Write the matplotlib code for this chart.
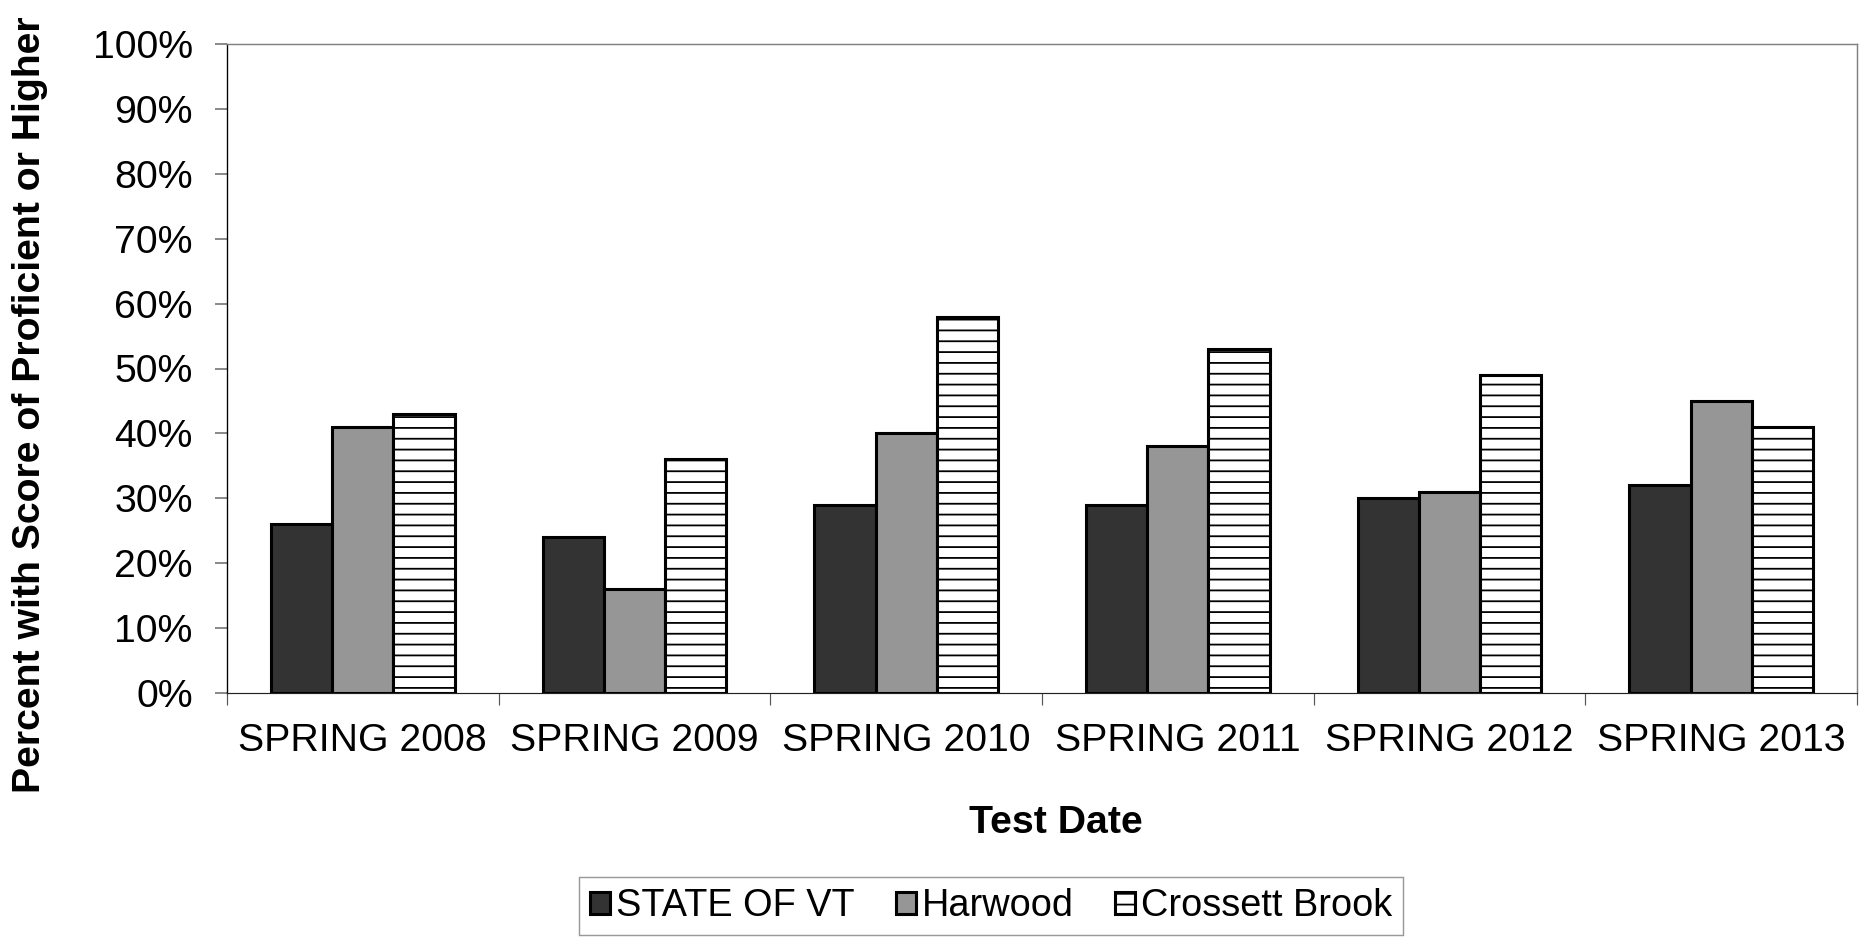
import numpy as np
import matplotlib
matplotlib.use("Agg")
import matplotlib.pyplot as plt
from matplotlib.ticker import PercentFormatter

plt.rcParams['font.family'] = ['Liberation Sans', 'DejaVu Sans']
plt.rcParams['hatch.linewidth'] = 2.0

# data
dates = ['SPRING 2008', 'SPRING 2009', 'SPRING 2010', 'SPRING 2011', 'SPRING 2012', 'SPRING 2013']
state_vt = [0.26, 0.24, 0.29, 0.29, 0.30, 0.32]
harwood = [0.41, 0.16, 0.40, 0.38, 0.31, 0.45]
crossett = [0.43, 0.36, 0.58, 0.53, 0.49, 0.41]

W, H, DPI = 1868, 939, 65
fig = plt.figure(figsize=(W / DPI, H / DPI), dpi=DPI)
ax = fig.add_axes([227 / W, 1 - 693 / H, (1857 - 227) / W, (693 - 44) / H])

fs = 43.5
x = np.arange(len(dates))
bw = 0.225
lw = 3.4
ax.bar(x - bw, state_vt, bw, color='#333333', edgecolor='black', linewidth=lw,
       label='STATE OF VT', zorder=3)
ax.bar(x, harwood, bw, color='#969696', edgecolor='black', linewidth=lw,
       label='Harwood', zorder=3)
ax.bar(x + bw, crossett, bw, color='white', edgecolor='black', linewidth=lw,
       hatch='-', label='Crossett Brook', zorder=3)

ax.set_xlim(-0.5, len(dates) - 0.5)
ax.set_ylim(0, 1)
ax.set_yticks(np.arange(0, 1.01, 0.1))
ax.yaxis.set_major_formatter(PercentFormatter(1.0, decimals=0))

# category boundaries get the tick marks, labels sit in the middle
ax.set_xticks(np.arange(-0.5, len(dates), 1.0))
ax.set_xticklabels([])
ax.set_xticks(x, minor=True)
ax.set_xticklabels(dates, minor=True)
ax.tick_params(axis='x', which='minor', length=0, pad=33, labelsize=fs)
ax.tick_params(axis='x', which='major', length=13, width=1.3, color='#555555', direction='out')
ax.tick_params(axis='y', length=13, width=2, color='#808080', pad=25, labelsize=fs)

for s in ['top', 'right']:
    ax.spines[s].set_color('#808080')
    ax.spines[s].set_linewidth(1.6)
ax.spines['left'].set_color('black')
ax.spines['left'].set_linewidth(1.5)
ax.spines['bottom'].set_color('#222222')
ax.spines['bottom'].set_linewidth(1.3)

fig.text(30 / W, 1 - 405 / H, 'Percent with Score of Proficient or Higher',
         rotation=90, ha='center', va='center', fontsize=fs, fontweight='bold')
fig.text(1056 / W, 1 - 823 / H, 'Test Date', ha='center', va='center',
         fontsize=fs, fontweight='bold')

leg = fig.legend(loc='center', bbox_to_anchor=(991 / W, 1 - 906 / H), ncol=3,
                 fontsize=42, frameon=True, fancybox=False, handlelength=0.52,
                 handleheight=0.52, handletextpad=0.15, columnspacing=1.1,
                 borderpad=0.3, borderaxespad=0)
leg.get_frame().set_edgecolor('#808080')
leg.get_frame().set_linewidth(1.6)

fig.savefig('out.png', dpi=DPI)
